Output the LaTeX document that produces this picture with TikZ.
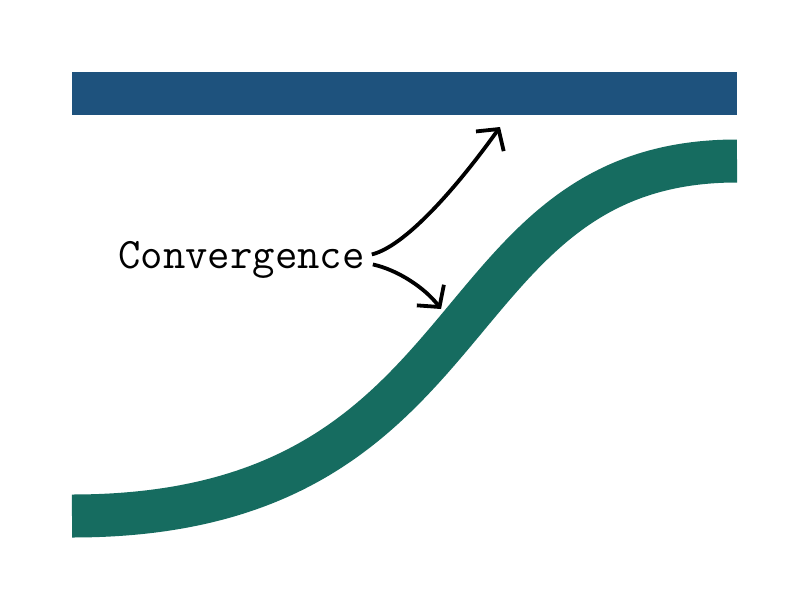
\documentclass[tikz,border=0pt]{standalone}
\usetikzlibrary{arrows.meta}
\definecolor{barblue}{HTML}{1E527D}
\definecolor{curvegreen}{HTML}{166C60}
\begin{document}
\begin{tikzpicture}[x=1pt,y=-1pt,
  band/.style={line width=43pt,line cap=butt},
  pointer/.style={line width=3.8pt,-{Straight Barb[length=15pt,width=34pt]}},
  lbltext/.style={inner sep=0pt,font=\ttfamily\fontsize{43.5}{50}\selectfont}]
\useasboundingbox[fill=white] (0,0) rectangle (809,611);
% upper straight band
\fill[barblue] (72,72) rectangle (737,115);
% lower S-shaped band
\draw[band,curvegreen] (72,516) .. controls (496,516) and (432,161) .. (737,161);
% label
\node[lbltext,anchor=base west] (lbl) at (118,268) {Convergence};
\coordinate (t1) at (500,127);
\coordinate (t2) at (441,309);
\draw[pointer] ([xshift=7pt,yshift=5pt]lbl.east) .. controls (410,245) and (468,172) .. (t1);
\draw[pointer] ([xshift=8pt,yshift=-5pt]lbl.east) .. controls (398,270) and (425,288) .. (t2);
\end{tikzpicture}
\end{document}
